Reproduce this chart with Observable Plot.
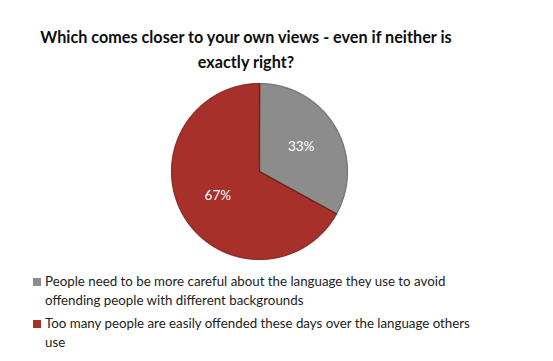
<!DOCTYPE html>
<html>
<head>
<meta charset="utf-8">
<script src="https://cdn.jsdelivr.net/npm/d3@7"></script>
<script src="https://cdn.jsdelivr.net/npm/@observablehq/plot@0.6"></script>
<style>
  body { margin: 0; background: #fff; font-family: Lato, "Open Sans", sans-serif; }
  #wrap { width: 553px; height: 361px; overflow: hidden; position: relative; }
  #title { text-align: center; font-weight: bold; font-size: 16.2px; line-height: 25px; color: #0d0d0d; padding-top: 24px; width: 492px; }
  #chart svg { display: block; }
  #legend { padding-left: 45px; padding-top: 2px; font-size: 13.3px; line-height: 19px; color: #222; width: 430px; }
  .item { position: relative; margin-bottom: 4px; }
  .sw { position: absolute; left: -12px; top: 6px; width: 8px; height: 8px; }
</style>
</head>
<body>
<div id="wrap">
  <div id="title"></div>
  <div id="chart"></div>
  <div id="legend"></div>
</div>
<script>
const titleLines = ["Which comes closer to your own views - even if neither is", "exactly right?"];
const categories = [
  "People need to be more careful about the language they use to avoid offending people with different backgrounds",
  "Too many people are easily offended these days over the language others use"
];
const values = [33, 67];
const labels = ["33%", "67%"];
const colors = ["#8c8c8c", "#a8302a"];

document.getElementById("title").innerHTML = titleLines.join("<br>");

const data = categories.map((c, i) => ({category: c, value: values[i], label: labels[i]}));
const arcs = d3.pie().sort(null).value(d => d.value)(data);

// polygon points for each slice (unit radius, y up)
const pts = [];
arcs.forEach(a => {
  pts.push({category: a.data.category, x: 0, y: 0});
  const n = Math.max(2, Math.ceil((a.endAngle - a.startAngle) * 60));
  for (let k = 0; k <= n; k++) {
    const t = a.startAngle + (a.endAngle - a.startAngle) * k / n;
    pts.push({category: a.data.category, x: Math.sin(t), y: Math.cos(t)});
  }
});
const labelPts = arcs.map(a => {
  const m = (a.startAngle + a.endAngle) / 2;
  return {label: a.data.label, x: 0.55 * Math.sin(m), y: 0.55 * Math.cos(m)};
});

const W = 553, H = 196, cx = 259, cy = 97, R = 88;
const plot = Plot.plot({
  width: W, height: H,
  margin: 0,
  x: {domain: [-cx / R, (W - cx) / R], axis: null},
  y: {domain: [-(H - cy) / R, cy / R], axis: null},
  color: {domain: categories, range: colors},
  marks: [
    Plot.line(pts, {x: "x", y: "y", z: "category", fill: "category", stroke: "category", strokeWidth: 1, curve: "linear-closed"}),
    Plot.line(pts, {x: "x", y: "y", z: "category", fill: "none", stroke: "#000", strokeOpacity: 0.18, strokeWidth: 1.5, curve: "linear-closed"}),
    Plot.text(labelPts, {x: "x", y: "y", text: "label", fill: "#fff", fontSize: 13.5, fontFamily: "Lato, sans-serif"})
  ]
});
document.getElementById("chart").appendChild(plot);

const leg = document.getElementById("legend");
categories.forEach((c, i) => {
  const d = document.createElement("div");
  d.className = "item";
  d.innerHTML = `<span class="sw" style="background:${colors[i]}"></span>` + c;
  leg.appendChild(d);
});
</script>
</body>
</html>
